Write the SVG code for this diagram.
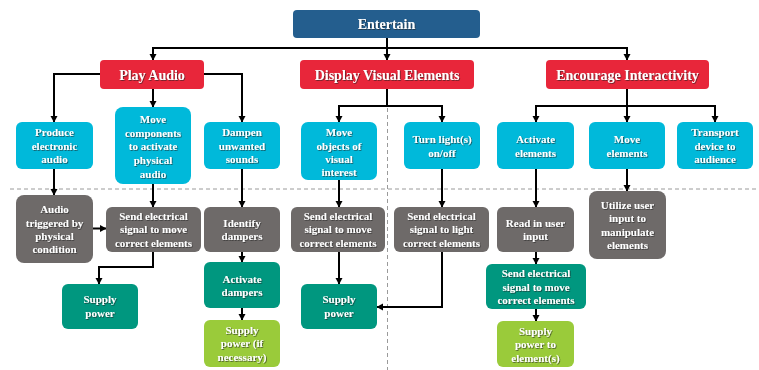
<svg xmlns="http://www.w3.org/2000/svg" width="759" height="370" viewBox="0 0 759 370">
  <style>
    .t { font-family: "Liberation Serif", "Times New Roman", serif; font-weight: bold; fill: #ffffff; text-anchor: middle; filter: url(#sh); }
    .t11 { font-size: 11px; }
    .t14 { font-size: 14px; }
    .top { fill: #245E8E; }
    .cat { fill: #E8263A; }
    .cy { fill: #00B9DA; }
    .gr { fill: #6E6A69; }
    .tl { fill: #00977F; }
    .lm { fill: #9ACB3A; }
    .guide { stroke: #9a9a9a; stroke-width: 1; stroke-dasharray: 4 3; fill: none; }
    .c { stroke: #000000; stroke-width: 2; fill: none; }
    .a { marker-end: url(#arr); }
  </style>
  <defs>
    <filter id="sh" x="-10%" y="-20%" width="130%" height="150%">
      <feDropShadow dx="0.8" dy="0.8" stdDeviation="0.4" flood-color="#222222" flood-opacity="0.7"/>
    </filter>
    <marker id="arr" markerUnits="userSpaceOnUse" markerWidth="8" markerHeight="8" refX="6" refY="3.5" orient="auto">
      <path d="M0,0 L6.5,3.5 L0,7 z" fill="#000000"/>
    </marker>
  </defs>

  <rect width="759" height="370" fill="#ffffff"/>

  <!-- section guides -->
  <g id="guides">
    <line class="guide" x1="10" y1="189" x2="758" y2="189"/>
    <line class="guide" x1="387.5" y1="38" x2="387.5" y2="370"/>
  </g>

  <!-- connectors -->
  <g id="connectors">
    <path class="c a" d="M387,38 V60"/>
    <path class="c" d="M153,48 H627"/>
    <path class="c a" d="M153,47 V60"/>
    <path class="c a" d="M627,47 V60"/>

    <path class="c a" d="M100,74 H54 V122"/>
    <path class="c a" d="M153,89 V107"/>
    <path class="c a" d="M204,74 H242 V122"/>

    <path class="c" d="M387,89 V106"/>
    <path class="c" d="M339,106 H442"/>
    <path class="c a" d="M339,105 V122"/>
    <path class="c a" d="M442,105 V122"/>

    <path class="c" d="M627,89 V106"/>
    <path class="c" d="M536,106 H715"/>
    <path class="c a" d="M536,105 V122"/>
    <path class="c a" d="M627,106 V122"/>
    <path class="c a" d="M715,105 V122"/>

    <path class="c a" d="M54,169 V195"/>
    <path class="c a" d="M153,184 V207"/>
    <path class="c a" d="M242,169 V207"/>
    <path class="c a" d="M339,180 V207"/>
    <path class="c a" d="M442,169 V207"/>
    <path class="c a" d="M536,169 V207"/>
    <path class="c a" d="M627,169 V191"/>

    <path class="c a" d="M93,228.5 H106"/>
    <path class="c a" d="M153,252 V267 H99 V284"/>
    <path class="c a" d="M242,252 V262"/>
    <path class="c a" d="M242,308 V320"/>
    <path class="c a" d="M339,252 V284"/>
    <path class="c a" d="M442,252 V307 H377"/>
    <path class="c a" d="M536,252 V264"/>
    <path class="c a" d="M536,309 V321"/>
  </g>

  <!-- root -->
  <g id="entertain">
    <rect class="top" x="293" y="10" width="187" height="28" rx="4"/>
    <text class="t t14" x="386.5" y="29">Entertain</text>
  </g>

  <!-- categories -->
  <g id="play-audio">
    <rect class="cat" x="100" y="60" width="104" height="29" rx="4"/>
    <text class="t t14" x="152" y="79.5">Play Audio</text>
  </g>
  <g id="display-visual">
    <rect class="cat" x="300" y="60" width="174" height="29" rx="4"/>
    <text class="t t14" x="387" y="79.5">Display Visual Elements</text>
  </g>
  <g id="encourage">
    <rect class="cat" x="546" y="60" width="163" height="29" rx="4"/>
    <text class="t t14" x="627.5" y="79.5">Encourage Interactivity</text>
  </g>

  <!-- functions -->
  <g id="produce-audio">
    <rect class="cy" x="16" y="122" width="77" height="47" rx="6"/>
    <text class="t t11" x="54.5"><tspan x="54.5" y="136.2">Produce</tspan><tspan x="54.5" y="149.6">electronic</tspan><tspan x="54.5" y="162.9">audio</tspan></text>
  </g>
  <g id="move-components">
    <rect class="cy" x="115" y="107" width="76" height="77" rx="8"/>
    <text class="t t11" x="153"><tspan x="153" y="123.2">Move</tspan><tspan x="153" y="136.8">components</tspan><tspan x="153" y="150.4">to activate</tspan><tspan x="153" y="164">physical</tspan><tspan x="153" y="177.6">audio</tspan></text>
  </g>
  <g id="dampen">
    <rect class="cy" x="204" y="122" width="76" height="47" rx="6"/>
    <text class="t t11" x="242"><tspan x="242" y="136.2">Dampen</tspan><tspan x="242" y="149.6">unwanted</tspan><tspan x="242" y="162.9">sounds</tspan></text>
  </g>
  <g id="move-objects">
    <rect class="cy" x="301" y="122" width="76" height="58" rx="7"/>
    <text class="t t11" x="339"><tspan x="339" y="136.2">Move</tspan><tspan x="339" y="149.6">objects of</tspan><tspan x="339" y="162.9">visual</tspan><tspan x="339" y="176.2">interest</tspan></text>
  </g>
  <g id="turn-lights">
    <rect class="cy" x="404" y="122" width="76" height="47" rx="6"/>
    <text class="t t11" x="442"><tspan x="442" y="142.9">Turn light(s)</tspan><tspan x="442" y="156.6">on/off</tspan></text>
  </g>
  <g id="activate-elements">
    <rect class="cy" x="497" y="122" width="77" height="47" rx="6"/>
    <text class="t t11" x="535.5"><tspan x="535.5" y="142.9">Activate</tspan><tspan x="535.5" y="156.6">elements</tspan></text>
  </g>
  <g id="move-elements">
    <rect class="cy" x="589" y="122" width="76" height="47" rx="6"/>
    <text class="t t11" x="627"><tspan x="627" y="142.9">Move</tspan><tspan x="627" y="156.6">elements</tspan></text>
  </g>
  <g id="transport-device">
    <rect class="cy" x="677" y="122" width="76" height="47" rx="6"/>
    <text class="t t11" x="715"><tspan x="715" y="136.2">Transport</tspan><tspan x="715" y="149.6">device to</tspan><tspan x="715" y="162.9">audience</tspan></text>
  </g>

  <!-- implementation steps -->
  <g id="audio-triggered">
    <rect class="gr" x="16" y="195" width="77" height="68" rx="8"/>
    <text class="t t11" x="54.5"><tspan x="54.5" y="212.9">Audio</tspan><tspan x="54.5" y="226.6">triggered by</tspan><tspan x="54.5" y="239.9">physical</tspan><tspan x="54.5" y="253.2">condition</tspan></text>
  </g>
  <g id="send-signal-audio">
    <rect class="gr" x="106" y="207" width="95" height="45" rx="6"/>
    <text class="t t11" x="153.5"><tspan x="153.5" y="220">Send electrical</tspan><tspan x="153.5" y="233.4">signal to move</tspan><tspan x="153.5" y="247">correct elements</tspan></text>
  </g>
  <g id="identify-dampers">
    <rect class="gr" x="204" y="207" width="76" height="45" rx="6"/>
    <text class="t t11" x="242"><tspan x="242" y="226.6">Identify</tspan><tspan x="242" y="239.9">dampers</tspan></text>
  </g>
  <g id="send-signal-visual">
    <rect class="gr" x="291" y="207" width="94" height="45" rx="6"/>
    <text class="t t11" x="338"><tspan x="338" y="220">Send electrical</tspan><tspan x="338" y="233.4">signal to move</tspan><tspan x="338" y="247">correct elements</tspan></text>
  </g>
  <g id="send-signal-light">
    <rect class="gr" x="394" y="207" width="95" height="45" rx="6"/>
    <text class="t t11" x="441.5"><tspan x="441.5" y="220">Send electrical</tspan><tspan x="441.5" y="233.4">signal to light</tspan><tspan x="441.5" y="247">correct elements</tspan></text>
  </g>
  <g id="read-input">
    <rect class="gr" x="497" y="207" width="77" height="45" rx="6"/>
    <text class="t t11" x="535.5"><tspan x="535.5" y="226.6">Read in user</tspan><tspan x="535.5" y="239.9">input</tspan></text>
  </g>
  <g id="utilize-input">
    <rect class="gr" x="589" y="191" width="77" height="68" rx="8"/>
    <text class="t t11" x="627.5"><tspan x="627.5" y="208.9">Utilize user</tspan><tspan x="627.5" y="222.2">input to</tspan><tspan x="627.5" y="235.6">manipulate</tspan><tspan x="627.5" y="248.9">elements</tspan></text>
  </g>

  <g id="supply-power-audio">
    <rect class="tl" x="62" y="284" width="76" height="45" rx="6"/>
    <text class="t t11" x="100"><tspan x="100" y="303.2">Supply</tspan><tspan x="100" y="317.2">power</tspan></text>
  </g>
  <g id="activate-dampers">
    <rect class="tl" x="204" y="262" width="76" height="46" rx="6"/>
    <text class="t t11" x="242"><tspan x="242" y="282.6">Activate</tspan><tspan x="242" y="296.2">dampers</tspan></text>
  </g>
  <g id="supply-power-dampers">
    <rect class="lm" x="204" y="320" width="76" height="47" rx="6"/>
    <text class="t t11" x="242"><tspan x="242" y="333.9">Supply</tspan><tspan x="242" y="347.2">power (if</tspan><tspan x="242" y="360.6">necessary)</tspan></text>
  </g>
  <g id="supply-power-visual">
    <rect class="tl" x="301" y="284" width="76" height="45" rx="6"/>
    <text class="t t11" x="339"><tspan x="339" y="303.2">Supply</tspan><tspan x="339" y="317.2">power</tspan></text>
  </g>
  <g id="send-signal-interactive">
    <rect class="tl" x="486" y="264" width="100" height="45" rx="6"/>
    <text class="t t11" x="536"><tspan x="536" y="277.2">Send electrical</tspan><tspan x="536" y="290.6">signal to move</tspan><tspan x="536" y="304.4">correct elements</tspan></text>
  </g>
  <g id="supply-power-elements">
    <rect class="lm" x="497" y="321" width="77" height="46" rx="6"/>
    <text class="t t11" x="535.5"><tspan x="535.5" y="334.6">Supply</tspan><tspan x="535.5" y="348.2">power to</tspan><tspan x="535.5" y="362">element(s)</tspan></text>
  </g>
</svg>
